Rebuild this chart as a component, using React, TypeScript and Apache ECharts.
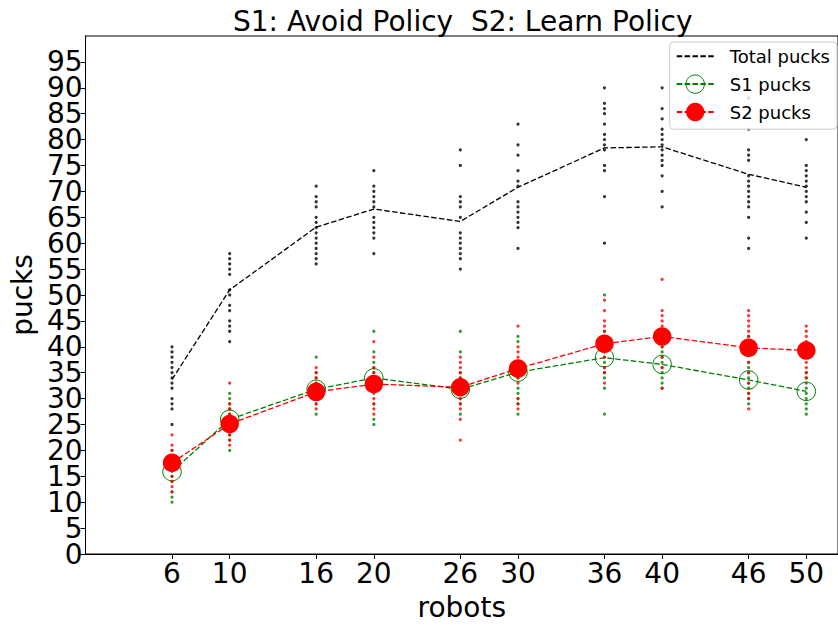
import { useEffect, useRef } from 'react';
import * as echarts from 'echarts';

const robots = [6, 10, 16, 20, 26, 30, 36, 40, 46, 50];
const yTicks = [0, 5, 10, 15, 20, 25, 30, 35, 40, 45, 50, 55, 60, 65, 70, 75, 80, 85, 90, 95];

const totalMean = [33.7, 51.0, 63.1, 66.6, 64.2, 70.8, 78.4, 78.6, 73.3, 70.8];
const s1Mean = [15.9, 26.0, 31.8, 34.0, 31.8, 35.1, 37.9, 36.6, 33.6, 31.4];
const s2Mean = [17.6, 25.1, 31.3, 32.8, 32.2, 35.8, 40.6, 42.0, 39.8, 39.3];

const totalRuns = [
  [40, 39, 38, 37, 36, 35, 34, 33, 32, 30, 29, 28, 25],
  [58, 57, 56, 55, 54, 51, 50, 48, 47, 45, 44, 43, 41],
  [71, 69, 68, 67, 65, 64, 63, 62, 61, 60, 59, 58, 57, 56],
  [74, 71, 70, 69, 68, 67, 65, 64, 63, 62, 61, 58],
  [78, 75, 69, 68, 67, 65, 62, 61, 60, 59, 58, 57, 55],
  [83, 79, 77, 74, 72, 71, 68, 67, 66, 65, 64, 63, 59],
  [90, 87, 86, 85, 83, 81, 80, 79, 78, 75, 74, 69, 60],
  [90, 86, 84, 82, 81, 80, 79, 78, 77, 76, 75, 73, 70, 67],
  [88, 85, 82, 78, 77, 76, 73, 72, 71, 70, 69, 68, 67, 65, 61, 59],
  [80, 75, 74, 73, 72, 71, 70, 69, 68, 66, 64, 61],
];
const s1Runs = [
  [10, 11, 12, 14, 15, 16, 16, 17, 18, 19, 20],
  [20, 22, 23, 25, 26, 26, 27, 28, 29, 30, 31],
  [27, 29, 30, 31, 32, 32, 33, 34, 35, 38],
  [25, 26, 29, 31, 33, 34, 35, 36, 37, 39, 43],
  [27, 29, 30, 31, 32, 32, 33, 34, 35, 39, 43],
  [27, 29, 30, 31, 32, 34, 35, 36, 37, 41, 42],
  [27, 32, 34, 35, 36, 37, 38, 39, 40, 42, 43, 50],
  [32, 33, 34, 35, 36, 37, 38, 39, 40, 41],
  [29, 30, 31, 32, 33, 34, 35, 36, 37, 42],
  [27, 28, 29, 30, 31, 32, 33, 34, 35],
];
const s2Runs = [
  [12, 13, 14, 15, 17, 18, 19, 20, 21, 23],
  [21, 22, 23, 24, 25, 26, 27, 28, 29, 33],
  [28, 29, 30, 31, 31, 32, 33, 34, 35, 36],
  [27, 28, 29, 30, 32, 33, 34, 35, 36, 38, 41],
  [22, 26, 28, 29, 30, 32, 33, 34, 35, 36, 37, 38],
  [28, 29, 30, 33, 34, 35, 36, 37, 38, 39, 40, 44],
  [33, 35, 36, 38, 39, 40, 42, 43, 44, 45, 47, 49],
  [32, 36, 38, 40, 41, 42, 43, 44, 45, 46, 47, 53],
  [28, 30, 31, 33, 35, 37, 39, 41, 42, 43, 44, 45, 46, 47],
  [34, 35, 36, 37, 38, 39, 40, 41, 42, 43, 44],
];

const FONT = "'DejaVu Sans', sans-serif";
const DASH = [5.5, 2.4];
const TICK_FONT = 28;

// split the y tick labels over two overlaid axes so that ECharts keeps every label
const yTicksEven = yTicks.filter((_, i) => i % 2 === 0);
const yTicksOdd = yTicks.filter((_, i) => i % 2 === 1);

function runPoints(runs: number[][]) {
  return runs.flatMap((vals, i) => vals.map((v) => [robots[i], v]));
}
function meanPoints(m: number[]) {
  return m.map((v, i) => [robots[i], v]);
}

function yAxisLabel(values: number[]) {
  return {
    customValues: values,
    margin: 3,
    fontSize: TICK_FONT,
    lineHeight: 22,
    color: '#000',
    fontFamily: FONT,
    showMinLabel: true,
    showMaxLabel: true,
    hideOverlap: false,
  };
}

export default function App() {
  const ref = useRef<HTMLDivElement>(null);
  useEffect(() => {
    const chart = echarts.init(ref.current!, null, { renderer: 'svg' });
    chart.setOption({
      animation: false,
      backgroundColor: '#fff',
      textStyle: { fontFamily: FONT },
      title: {
        text: 'S1: Avoid Policy  S2: Learn Policy',
        left: 233,
        top: 7,
        padding: 0,
        textStyle: { fontFamily: FONT, fontSize: 28, fontWeight: 'normal', color: '#000' },
      },
      grid: {
        left: 80,
        right: -3,
        top: 36,
        bottom: 66,
        show: true,
        borderColor: '#000',
        borderWidth: 1,
        backgroundColor: 'transparent',
      },
      legend: {
        data: ['Total pucks', 'S1 pucks', 'S2 pucks'],
        orient: 'vertical',
        right: 1,
        top: 42,
        padding: [5, 7, 8, 6],
        itemWidth: 37,
        itemHeight: 23,
        itemGap: 9,
        backgroundColor: 'rgba(255,255,255,0.8)',
        borderColor: '#cccccc',
        borderWidth: 1,
        borderRadius: 4,
        selectedMode: false,
        z: 20,
        itemStyle: { borderWidth: 1 },
        textStyle: { fontSize: 18, color: '#000', fontFamily: FONT, padding: [0, 0, 0, 11] },
      },
      xAxis: {
        type: 'value',
        min: 0,
        max: 52.2,
        name: 'robots',
        nameLocation: 'middle',
        nameGap: 39,
        nameTextStyle: { fontSize: 28, color: '#000', fontFamily: FONT },
        axisLine: { show: true, onZero: false, lineStyle: { color: '#000', width: 1 } },
        axisTick: { show: true, length: 5, customValues: robots, lineStyle: { color: '#000', width: 1 } },
        axisLabel: {
          customValues: robots,
          margin: 7,
          fontSize: TICK_FONT,
          lineHeight: 24,
          color: '#000',
          fontFamily: FONT,
          hideOverlap: false,
        },
        splitLine: { show: false },
      },
      yAxis: [
        {
          type: 'value',
          position: 'left',
          min: 0,
          max: 100,
          interval: 10,
          name: 'pucks',
          nameLocation: 'middle',
          nameGap: 44,
          nameRotate: 90,
          nameTextStyle: { fontSize: 28, color: '#000', fontFamily: FONT },
          axisLine: { show: true, onZero: false, lineStyle: { color: '#000', width: 1 } },
          axisTick: { show: true, length: 5, customValues: yTicksEven, lineStyle: { color: '#000', width: 1 } },
          axisLabel: yAxisLabel(yTicksEven),
          splitLine: { show: false },
        },
        {
          type: 'value',
          position: 'left',
          offset: 0,
          min: 0,
          max: 100,
          interval: 10,
          axisLine: { show: false },
          axisTick: { show: true, length: 5, customValues: yTicksOdd, lineStyle: { color: '#000', width: 1 } },
          axisLabel: yAxisLabel(yTicksOdd),
          splitLine: { show: false },
        },
      ],
      series: [
        {
          type: 'scatter',
          name: 'Total runs',
          data: runPoints(totalRuns),
          symbolSize: 3.2,
          itemStyle: { color: '#000' },
          z: 2,
          silent: true,
        },
        {
          type: 'line',
          name: 'Total pucks',
          data: meanPoints(totalMean),
          symbol: 'none',
          lineStyle: { color: '#000', width: 1.3, type: DASH },
          itemStyle: { color: 'rgba(0,0,0,0)' },
          z: 3,
          silent: true,
        },
        {
          type: 'scatter',
          name: 'S1 runs',
          data: runPoints(s1Runs),
          symbolSize: 3.2,
          itemStyle: { color: '#008000' },
          z: 4,
          silent: true,
        },
        {
          type: 'line',
          name: 'S1 pucks',
          data: meanPoints(s1Mean),
          symbol: 'circle',
          symbolSize: 18.5,
          showAllSymbol: true,
          lineStyle: { color: '#008000', width: 1.3, type: DASH },
          itemStyle: { color: 'rgba(255,255,255,0)', borderColor: '#008000', borderWidth: 1 },
          z: 5,
          silent: true,
        },
        {
          type: 'scatter',
          name: 'S2 runs',
          data: runPoints(s2Runs),
          symbolSize: 3.2,
          itemStyle: { color: '#ff0000' },
          z: 6,
          silent: true,
        },
        {
          type: 'line',
          name: 'S2 pucks',
          data: meanPoints(s2Mean),
          symbol: 'circle',
          symbolSize: 18.5,
          showAllSymbol: true,
          lineStyle: { color: '#ff0000', width: 1.3, type: DASH },
          itemStyle: { color: '#ff0000' },
          z: 7,
          silent: true,
        },
      ],
    });
    return () => chart.dispose();
  }, []);
  return (
    <div
      ref={ref}
      style={{ position: 'fixed', left: 0, top: 0, width: 838, height: 626, background: '#fff' }}
    />
  );
}
